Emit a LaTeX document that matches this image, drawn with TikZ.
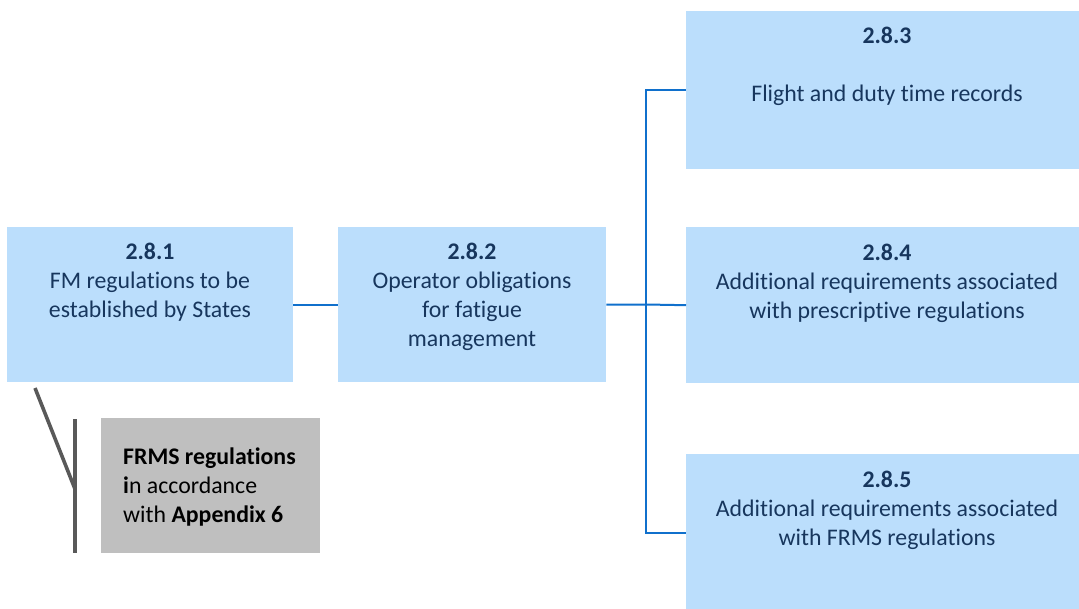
\documentclass[tikz,border=0pt]{standalone}
\usepackage{fontspec}
\setmainfont{Carlito}[Ligatures=NoCommon]
\definecolor{boxblue}{RGB}{187,222,252}
\definecolor{linkblue}{RGB}{16,112,204}
\definecolor{navy}{RGB}{23,54,93}
\definecolor{notegrey}{RGB}{191,191,191}
\definecolor{bracketgrey}{RGB}{89,89,89}
\tikzset{
  box/.style={fill=boxblue, draw=none, anchor=north west, inner sep=0pt},
  notebox/.style={fill=notegrey, draw=none, anchor=north west, inner sep=0pt},
  % multi-line labels are placed by the baseline of their last line
  lbl/.style={text=navy, align=center, inner sep=0pt, anchor=base,
    font=\fontsize{23.8}{29}\selectfont},
  notelbl/.style={text=black, align=left, inner sep=0pt, anchor=base west,
    font=\fontsize{23.8}{29}\selectfont},
  conn/.style={draw=linkblue, line width=2pt},
  brace/.style={draw=bracketgrey, line width=3.6pt}
}
\begin{document}
\begin{tikzpicture}[x=1pt,y=-1pt]
\useasboundingbox (0,0) rectangle (1079,608);

% boxes
\node[box, minimum width=286pt, minimum height=155pt] (b1) at (7,227) {};
\node[box, minimum width=268pt, minimum height=155pt] (b2) at (338,227) {};
\node[box, minimum width=402pt, minimum height=158pt] (b3) at (686,11) {};
\node[box, minimum width=402pt, minimum height=156pt] (b4) at (686,227) {};
\node[box, minimum width=402pt, minimum height=158pt] (b5) at (686,454) {};
\node[notebox, minimum width=219pt, minimum height=135pt] (n1) at (101,418) {};

% box texts
\node[lbl] (t1) at (150,317.5) {\textbf{2.8.1}\\FM regulations to be\\established by States};
\node[lbl] (t2) at (472,346.5) {\textbf{2.8.2}\\Operator obligations\\for fatigue\\management};
\node[lbl] (t3) at (887,101.5) {\textbf{2.8.3}\\[29pt]Flight and duty time records};
\node[lbl] (t4) at (887,318) {\textbf{2.8.4}\\Additional requirements associated\\with prescriptive regulations};
\node[lbl] (t5) at (887,545) {\textbf{2.8.5}\\Additional requirements associated\\with FRMS regulations};
\node[notelbl] (tn) at (123,522) {\textbf{FRMS regulations}\\\textbf{i}n accordance\\with \textbf{Appendix 6}};

% connectors
\coordinate (j) at (646,304.5);
\draw[conn] (b1.east) -- (b2.west);
\draw[conn] (b2.east) -- (j);
\draw[conn] (b3.west) -| (j) |- (b5.west);
\draw[conn] (j) -- (b4.west);

% bracket beside the note
\coordinate (s1) at (35,388);
\coordinate (s2) at (75,489);
\coordinate (v1) at (75,419);
\coordinate (v2) at (75,553);
\draw[brace] (s1) -- (s2);
\draw[brace] (v1) -- (v2);
\end{tikzpicture}
\end{document}
